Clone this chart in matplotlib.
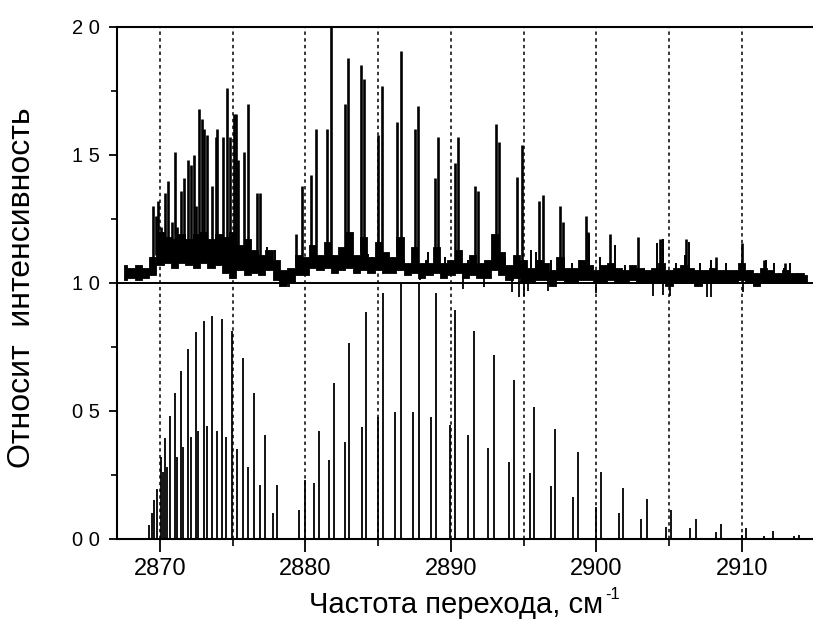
import numpy as np
import matplotlib
matplotlib.use("Agg")
import matplotlib.pyplot as plt
from matplotlib.ticker import MultipleLocator, FixedLocator

plt.rcParams['font.family'] = ['Liberation Sans', 'DejaVu Sans']

# ---- experimental spectrum (upper panel): noisy band + peaks ----
band_x = [2867.5, 2868.0, 2868.5, 2869.0, 2869.5, 2870.0, 2870.5, 2871.0, 2871.5, 2872.0,
          2872.5, 2873.0, 2873.5, 2874.0, 2874.5, 2875.0, 2875.5, 2876.0, 2876.5, 2877.0,
          2877.5, 2878.0, 2878.5, 2879.0, 2879.5, 2880.0, 2880.5, 2881.0, 2881.5, 2882.0,
          2882.5, 2883.0, 2883.5, 2884.0, 2884.5, 2885.0, 2885.5, 2886.0, 2886.5, 2887.0,
          2887.5, 2888.0, 2888.5, 2889.0, 2889.5, 2890.0, 2890.5, 2891.0, 2891.5, 2892.0,
          2892.5, 2893.0, 2893.5, 2894.0, 2894.5, 2895.0, 2895.5, 2896.0, 2896.5, 2897.0,
          2897.5, 2898.0, 2898.5, 2899.0, 2899.5, 2900.0, 2900.5, 2901.0, 2901.5, 2902.0,
          2902.5, 2903.0, 2903.5, 2904.0, 2904.5, 2905.0, 2905.5, 2906.0, 2906.5, 2907.0,
          2907.5, 2908.0, 2908.5, 2909.0, 2909.5, 2910.0, 2910.5, 2911.0, 2911.5, 2912.0,
          2912.5, 2913.0, 2913.5, 2914.0, 2914.5]
band_lo = [1.01, 1.02, 1.01, 1.02, 1.03, 1.07, 1.08, 1.06, 1.08, 1.07,
           1.06, 1.08, 1.06, 1.07, 1.04, 1.02, 1.05, 1.03, 1.04, 1.03,
           1.05, 1.01, 0.99, 1.00, 1.03, 1.03, 1.06, 1.05, 1.06, 1.04,
           1.05, 1.06, 1.04, 1.05, 1.04, 1.05, 1.04, 1.04, 1.05, 1.03,
           1.04, 1.02, 1.03, 1.04, 1.02, 1.03, 1.04, 1.02, 1.03, 1.02,
           1.02, 1.05, 1.03, 1.01, 1.02, 1.00, 1.00, 1.01, 1.01, 0.99,
           1.01, 1.00, 1.00, 1.01, 1.01, 1.00, 1.00, 1.01, 1.00, 1.00,
           1.01, 1.00, 1.00, 1.00, 1.00, 0.99, 1.00, 1.00, 1.00, 0.99,
           1.00, 1.00, 1.00, 1.00, 1.00, 1.01, 1.00, 0.99, 1.00, 1.00,
           1.00, 1.00, 1.00, 1.00, 1.00]
band_hi = [1.07, 1.06, 1.07, 1.06, 1.10, 1.20, 1.18, 1.17, 1.19, 1.17,
           1.19, 1.20, 1.17, 1.19, 1.18, 1.20, 1.15, 1.17, 1.13, 1.11,
           1.13, 1.09, 1.05, 1.06, 1.11, 1.10, 1.15, 1.11, 1.16, 1.11,
           1.14, 1.20, 1.11, 1.18, 1.10, 1.16, 1.12, 1.10, 1.18, 1.08,
           1.14, 1.08, 1.08, 1.14, 1.08, 1.09, 1.13, 1.08, 1.11, 1.08,
           1.09, 1.19, 1.12, 1.07, 1.11, 1.09, 1.06, 1.09, 1.08, 1.05,
           1.10, 1.06, 1.06, 1.09, 1.07, 1.05, 1.07, 1.08, 1.06, 1.05,
           1.07, 1.06, 1.05, 1.06, 1.08, 1.05, 1.06, 1.07, 1.06, 1.05,
           1.05, 1.06, 1.05, 1.05, 1.05, 1.08, 1.05, 1.04, 1.06, 1.05,
           1.04, 1.05, 1.04, 1.04, 1.03]

exp_pos = [2869.54, 2869.70, 2869.88, 2870.05, 2870.20, 2870.34, 2870.57, 2870.80, 2871.03, 2871.20,
           2871.42, 2871.65, 2871.90, 2872.10, 2872.36, 2872.50, 2872.68, 2872.90, 2873.05, 2873.25,
           2873.55, 2873.85, 2873.95, 2874.35, 2874.58, 2874.80, 2875.09, 2875.20, 2875.35, 2875.80,
           2876.03, 2876.65, 2876.90, 2879.35, 2879.74, 2880.38, 2880.70, 2881.45, 2881.73, 2882.70,
           2882.90, 2883.79, 2884.04, 2885.00, 2885.28, 2886.27, 2886.54, 2887.53, 2887.75, 2888.90,
           2889.12, 2890.27, 2890.46, 2891.65, 2891.88, 2893.10, 2893.30, 2894.56, 2894.86, 2896.07,
           2896.35, 2897.50, 2897.72, 2899.28, 2899.45, 2900.93, 2902.87, 2904.36, 2904.50, 2906.20,
           2908.20, 2910.00, 2911.50, 2913.00]
exp_int = [1.30, 1.26, 1.32, 1.22, 1.20, 1.35, 1.40, 1.24, 1.51, 1.22,
           1.36, 1.41, 1.48, 1.46, 1.50, 1.30, 1.68, 1.64, 1.60, 1.58,
           1.38, 1.57, 1.60, 1.57, 1.76, 1.57, 1.66, 1.66, 1.48, 1.51,
           1.70, 1.35, 1.35, 1.19, 1.38, 1.42, 1.60, 1.60, 2.00, 1.70,
           1.88, 1.85, 1.795, 1.58, 1.77, 1.63, 1.905, 1.60, 1.69, 1.41,
           1.57, 1.47, 1.57, 1.38, 1.36, 1.62, 1.55, 1.415, 1.54, 1.32,
           1.345, 1.30, 1.24, 1.26, 1.20, 1.19, 1.18, 1.17, 1.17, 1.17,
           1.10, 1.155, 1.09, 1.08]
# small noise spikes
spike_pos = [2877.35, 2877.9, 2884.3, 2884.6, 2885.7, 2886.8, 2888.3, 2888.45, 2889.6, 2891.0,
             2891.2, 2892.34, 2893.7, 2895.5, 2895.85, 2896.9, 2898.3, 2898.87, 2899.5, 2900.24,
             2901.27, 2901.96, 2903.3, 2904.2, 2904.6, 2905.5, 2906.1, 2906.4, 2907.1, 2907.9,
             2908.95, 2911.7, 2912.2, 2912.9, 2913.3, 2913.9]
spike_int = [1.14, 1.13, 1.115, 1.10, 1.115, 1.08, 1.09, 1.12, 1.10, 1.07,
             1.09, 1.08, 1.10, 1.13, 1.12, 1.09, 1.08, 1.09, 1.19, 1.10,
             1.15, 1.07, 1.06, 1.155, 1.17, 1.08, 1.11, 1.16, 1.08, 1.09,
             1.08, 1.09, 1.08, 1.06, 1.08, 1.04]
dip_pos = [2878.25, 2878.9, 2887.9, 2890.8, 2892.3, 2894.2, 2894.7, 2895.05, 2895.3, 2896.7,
           2900.0, 2903.9, 2904.6, 2905.1, 2907.6, 2907.9, 2910.1]
dip_int = [0.985, 0.985, 1.01, 0.975, 0.985, 0.965, 0.945, 0.95, 0.97, 0.97,
           0.96, 0.95, 0.955, 0.95, 0.946, 0.945, 0.965]

# ---- calculated stick spectrum (lower panel) ----
calc_pos = [2869.26, 2869.43, 2869.60, 2869.77, 2870.05, 2870.20, 2870.34, 2870.50, 2870.69, 2871.03,
            2871.20, 2871.44, 2871.60, 2871.90, 2872.10, 2872.47, 2872.62, 2873.05, 2873.25, 2873.60,
            2873.90, 2874.24, 2874.55, 2874.95, 2875.30, 2875.73, 2876.05, 2876.46, 2876.86, 2877.24,
            2877.78, 2878.06, 2879.57, 2879.94, 2880.60, 2880.95, 2881.65, 2881.96, 2882.71, 2882.99,
            2883.86, 2884.16, 2885.00, 2885.30, 2886.15, 2886.54, 2887.37, 2887.80, 2888.62, 2889.00,
            2889.93, 2890.27, 2891.20, 2891.58, 2892.52, 2892.93, 2894.00, 2894.33, 2895.47, 2895.72,
            2896.87, 2897.19, 2898.40, 2898.75, 2900.00, 2900.30, 2901.57, 2901.84, 2903.10, 2903.50,
            2904.82, 2905.16, 2906.47, 2906.84, 2908.20, 2908.54, 2910.00, 2910.30, 2911.50, 2912.15,
            2913.60, 2913.93]
calc_int = [0.055, 0.10, 0.152, 0.194, 0.32, 0.26, 0.393, 0.28, 0.48, 0.569,
            0.32, 0.657, 0.36, 0.742, 0.40, 0.807, 0.42, 0.852, 0.44, 0.872,
            0.42, 0.858, 0.40, 0.814, 0.35, 0.706, 0.28, 0.569, 0.21, 0.406,
            0.10, 0.21, 0.113, 0.23, 0.22, 0.42, 0.31, 0.608, 0.38, 0.764,
            0.439, 0.885, 0.478, 0.962, 0.495, 1.0, 0.495, 1.0, 0.478, 0.96,
            0.445, 0.894, 0.406, 0.814, 0.354, 0.719, 0.30, 0.62, 0.256, 0.517,
            0.208, 0.428, 0.165, 0.339, 0.126, 0.26, 0.10, 0.20, 0.077, 0.155,
            0.048, 0.113, 0.042, 0.08, 0.029, 0.058, 0.017, 0.042, 0.01, 0.03,
            0.01, 0.017]

grid_x = [2870, 2875, 2880, 2885, 2890, 2895, 2900, 2905, 2910]
xtick_vals = [2870, 2880, 2890, 2900, 2910]
ytick_vals = [0.0, 0.5, 1.0, 1.5, 2.0]
ytick_labels = ["0 0", "0 5", "1 0", "1 5", "2 0"]

fig = plt.figure(figsize=(8.13, 6.27), dpi=100)
ax = fig.add_axes([117/813, 88/627, 1 - 117/813, (539 - 27)/627])

ax.set_xlim(2867.04, 2914.9)
ax.set_ylim(0, 2.0)

# dotted guide lines
for gx in grid_x:
    ax.axvline(gx, color='black', lw=1.1, ls=(0, (2.2, 2.2)), zorder=1)

# separator at 1.0
ax.axhline(1.0, color='black', lw=1.4, zorder=3)

# upper experimental trace
ax.fill_between(band_x, band_lo, band_hi, step='mid', color='black', lw=0.6, zorder=2)
base_hi = np.interp(exp_pos, band_x, band_hi)
ax.vlines(exp_pos, base_hi - 0.03, exp_int, color='black', lw=1.9, zorder=2)
base_sp = np.interp(spike_pos, band_x, band_hi)
ax.vlines(spike_pos, base_sp - 0.03, spike_int, color='black', lw=1.4, zorder=2)
base_lo = np.interp(dip_pos, band_x, band_lo)
ax.vlines(dip_pos, dip_int, base_lo + 0.02, color='black', lw=1.3, zorder=2)

# lower calculated sticks
ax.vlines(calc_pos, 0, calc_int, color='black', lw=1.3, zorder=2)

# spines
for s in ['left', 'bottom', 'top']:
    ax.spines[s].set_linewidth(1.5)
ax.spines['right'].set_visible(False)

ax.xaxis.set_major_locator(FixedLocator(xtick_vals))
ax.xaxis.set_minor_locator(MultipleLocator(5))
ax.set_xticklabels([str(v) for v in xtick_vals])
ax.yaxis.set_major_locator(FixedLocator(ytick_vals))
ax.yaxis.set_minor_locator(MultipleLocator(0.25))
ax.set_yticklabels(ytick_labels)

ax.tick_params(axis='x', which='major', direction='out', length=9, width=1.3,
               labelsize=17, pad=5, top=False)
ax.tick_params(axis='x', which='minor', direction='out', length=5, width=1.2, top=False)
ax.tick_params(axis='y', which='major', direction='out', length=6, width=1.3,
               labelsize=14.5, pad=6, right=False)
ax.tick_params(axis='y', which='minor', direction='out', length=4, width=1.2, right=False)

xl = fig.text(456/813, 1 - 605/627, "Частота перехода, см",
              ha='center', va='center', fontsize=21)
fig.canvas.draw()
bb = xl.get_window_extent(fig.canvas.get_renderer())
fig.text((bb.x1 + 2) / 813, (bb.y1 + 4) / 627, "-1", ha='left', va='top', fontsize=12)

fig.text(22/813, 1 - 288/627, "Относит  интенсивность", rotation=90,
         ha='center', va='center', fontsize=23)

fig.savefig("out.png", dpi=100)
